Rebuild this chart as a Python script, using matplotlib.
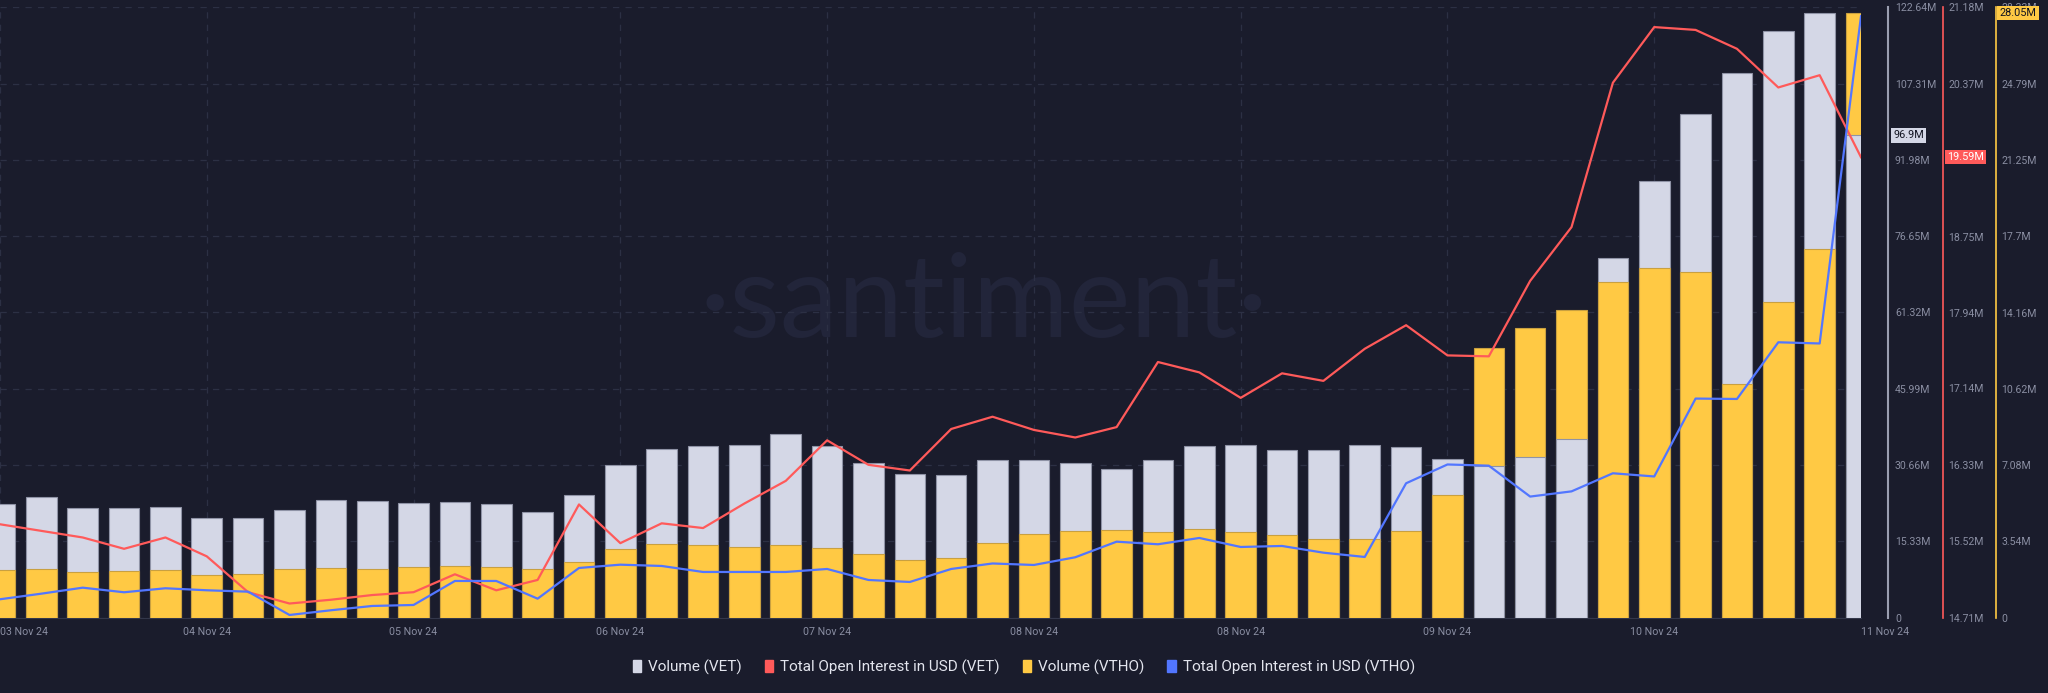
import numpy as np
import matplotlib
matplotlib.use("Agg")
import matplotlib.pyplot as plt
import matplotlib.transforms as mtransforms
from matplotlib.patches import Patch

plt.rcParams['font.family'] = ['Roboto', 'DejaVu Sans']

# -------------------------------
# Data (Santiment, VET / VTHO, 03 Nov -> 11 Nov 24)
# -------------------------------
volume_vet = [22.90, 24.19, 22.10, 22.04, 22.18, 20.03, 20.05, 21.64, 23.59, 23.51,
              22.98, 23.31, 22.84, 21.30, 24.71, 30.68, 33.89, 34.44, 34.64, 36.85,
              34.56, 31.02, 28.81, 28.61, 31.62, 31.75, 31.14, 29.88, 31.62, 34.50,
              34.64, 33.75, 33.63, 34.70, 34.36, 31.91, 30.48, 32.33, 35.88, 72.21,
              87.70, 101.10, 109.34, 117.90, 121.44, 96.90]
volume_vtho = [2.23, 2.26, 2.11, 2.15, 2.23, 1.98, 2.04, 2.26, 2.32, 2.26,
               2.34, 2.41, 2.37, 2.25, 2.60, 3.17, 3.42, 3.37, 3.28, 3.39,
               3.23, 2.94, 2.66, 2.78, 3.45, 3.90, 4.01, 4.08, 3.99, 4.12,
               3.98, 3.84, 3.65, 3.64, 4.01, 5.71, 12.50, 13.43, 14.29, 15.56,
               16.25, 16.04, 10.86, 14.65, 17.12, 28.05]
oi_vet = [15.70, 15.63, 15.56, 15.44, 15.56, 15.36, 14.98, 14.86, 14.90, 14.95,
          14.98, 15.17, 15.00, 15.11, 15.91, 15.50, 15.71, 15.66, 15.92, 16.16,
          16.59, 16.33, 16.27, 16.71, 16.84, 16.70, 16.62, 16.73, 17.42, 17.31,
          17.04, 17.30, 17.22, 17.56, 17.81, 17.49, 17.48, 18.28, 18.85, 20.38,
          20.97, 20.94, 20.74, 20.33, 20.46, 19.59]
oi_vtho = [0.184, 0.240, 0.300, 0.254, 0.294, 0.274, 0.260, 0.027, 0.074, 0.117,
           0.127, 0.367, 0.367, 0.190, 0.497, 0.530, 0.517, 0.457, 0.457, 0.457,
           0.487, 0.377, 0.357, 0.487, 0.542, 0.527, 0.604, 0.760, 0.734, 0.797,
           0.707, 0.717, 0.650, 0.607, 1.344, 1.532, 1.520, 1.211, 1.263, 1.444,
           1.412, 2.191, 2.187, 2.754, 2.742, 6.016]

date_labels = ['03 Nov 24', '04 Nov 24', '05 Nov 24', '06 Nov 24', '07 Nov 24',
               '08 Nov 24', '08 Nov 24', '09 Nov 24', '10 Nov 24', '11 Nov 24']

vet_ticks = [0, 15.33, 30.66, 45.99, 61.32, 76.65, 91.98, 107.31, 122.64]
vet_labels = ['0', '15.33M', '30.66M', '45.99M', '61.32M', '76.65M', '91.98M', '107.31M', '122.64M']
oi_ticks = [14.71, 15.52, 16.33, 17.14, 17.94, 18.75, 19.56, 20.37, 21.18]
oi_labels = ['14.71M', '15.52M', '16.33M', '17.14M', '17.94M', '18.75M', '19.56M', '20.37M', '21.18M']
vtho_ticks = [0, 3.54, 7.08, 10.62, 14.16, 17.70, 21.25, 24.79, 28.33]
vtho_labels = ['0', '3.54M', '7.08M', '10.62M', '14.16M', '17.7M', '21.25M', '24.79M', '28.33M']

# -------------------------------
# Style
# -------------------------------
BG = '#1a1c2c'
GRID = '#2c3044'
TXT = '#8a8ea2'
C_VET = '#d4d7e6'
C_VTHO = '#ffc944'
C_RED = '#ff5a5a'
C_BLUE = '#5276ff'

n = len(volume_vet)
x = np.arange(n)
vet = np.array(volume_vet)
vtho = np.array(volume_vtho)

fig = plt.figure(figsize=(20.48, 6.93), dpi=100, facecolor=BG)
ax = fig.add_axes([0.0, 0.1087, 0.9087, 0.8808], facecolor=BG)
ax_y = ax.twinx()    # Volume (VTHO)
ax_gf = ax.twinx()   # Volume (VET), bars shorter than VTHO drawn on top
ax_r = ax.twinx()    # OI VET
ax_b = ax.twinx()    # OI VTHO (hidden scale)

ylim_vet = (0, 122.64)
ylim_vtho = (0, 28.33)
for a in (ax, ax_gf):
    a.set_ylim(*ylim_vet)
ax_y.set_ylim(*ylim_vtho)
ax_r.set_ylim(14.71, 21.18)
ax_b.set_ylim(0, 6.104)
for a in (ax, ax_y, ax_gf, ax_r, ax_b):
    a.set_xlim(0, n - 1)

# smaller bar in front
front = vet / ylim_vet[1] < vtho / ylim_vtho[1]
w = 0.74
ax.bar(x[~front], vet[~front], width=w, color=C_VET, edgecolor='#8f93a6', linewidth=0.8, zorder=2)
ax_y.bar(x, vtho, width=w, color=C_VTHO, edgecolor='#c9a040', linewidth=0.8, zorder=2)
ax_gf.bar(x[front], vet[front], width=w, color=C_VET, edgecolor='#8f93a6', linewidth=0.8, zorder=2)

ax_r.plot(x, oi_vet, color=C_RED, lw=1.6, zorder=3)
ax_b.plot(x, oi_vtho, color=C_BLUE, lw=1.6, zorder=3)

# watermark
ax.text(0.5288, 0.46, '·santiment·', transform=ax.transAxes, ha='center', va='baseline',
        fontsize=84, color='#22253a', family=['Lato', 'DejaVu Sans'], zorder=0)

# grid
ax.set_axisbelow(True)
ax.grid(True, color=GRID, linestyle=(0, (5, 5)), linewidth=0.9)

# x axis
ticks = list(range(0, n, 5))
ax.set_xticks(ticks, date_labels)
ax.tick_params(axis='x', length=0, pad=7, labelsize=7.7, labelcolor=TXT)
xl = ax.get_xticklabels()
xl[0].set_horizontalalignment('left')
xl[-1].set_horizontalalignment('left')

for a in (ax, ax_y, ax_gf, ax_r, ax_b):
    for s in a.spines.values():
        s.set_visible(False)
ax.spines['bottom'].set_visible(True)
ax.spines['bottom'].set_color('#33374a')

# right axes
ax.yaxis.tick_right()
ax.set_yticks(vet_ticks, vet_labels)
ax.spines['right'].set_visible(True)
ax.spines['right'].set_position(('axes', 1.0145))
ax.spines['right'].set_color('#9a9eb0')
ax.spines['right'].set_linewidth(1.5)
ax.tick_params(axis='y', length=0, pad=5, labelsize=7.6, labelcolor=TXT)

ax_r.set_yticks(oi_ticks, oi_labels)
ax_r.spines['right'].set_visible(True)
ax_r.spines['right'].set_position(('axes', 1.0441))
ax_r.spines['right'].set_color(C_RED)
ax_r.spines['right'].set_linewidth(1.2)
ax_r.tick_params(axis='y', length=0, pad=4, labelsize=7.6, labelcolor=TXT)

ax_y.set_yticks(vtho_ticks, vtho_labels)
ax_y.spines['right'].set_visible(True)
ax_y.spines['right'].set_position(('axes', 1.0725))
ax_y.spines['right'].set_color(C_VTHO)
ax_y.spines['right'].set_linewidth(1.2)
ax_y.tick_params(axis='y', length=0, pad=4, labelsize=7.6, labelcolor=TXT)

for a in (ax_gf, ax_b):
    a.set_yticks([])

# last value boxes
def last_box(a, xpos, val, text, fc, tc):
    tr = mtransforms.blended_transform_factory(a.transAxes, a.transData)
    a.text(xpos, val, text, transform=tr, ha='left', va='center', fontsize=7.8,
           color=tc, zorder=10, clip_on=False,
           bbox=dict(boxstyle='square,pad=0.2', fc=fc, ec='none'))

last_box(ax_gf, 1.0172, volume_vet[-1], '96.9M', C_VET, '#111320')
last_box(ax_r, 1.0462, oi_vet[-1], '19.59M', C_RED, 'white')
last_box(ax_y, 1.0745, volume_vtho[-1], '28.05M', C_VTHO, '#111320')

# legend
handles = [Patch(color=C_VET), Patch(color=C_RED), Patch(color=C_VTHO), Patch(color=C_BLUE)]
names = ['Volume (VET)', 'Total Open Interest in USD (VET)', 'Volume (VTHO)',
         'Total Open Interest in USD (VTHO)']
leg = fig.legend(handles, names, loc='center', bbox_to_anchor=(0.5, 0.0375), ncol=4,
                 frameon=False, fontsize=11, handlelength=0.55, handleheight=0.9,
                 handletextpad=0.45, columnspacing=1.5)
for t in leg.get_texts():
    t.set_color('#e3e5ee')

fig.savefig('out.png', dpi=100, facecolor=BG)
